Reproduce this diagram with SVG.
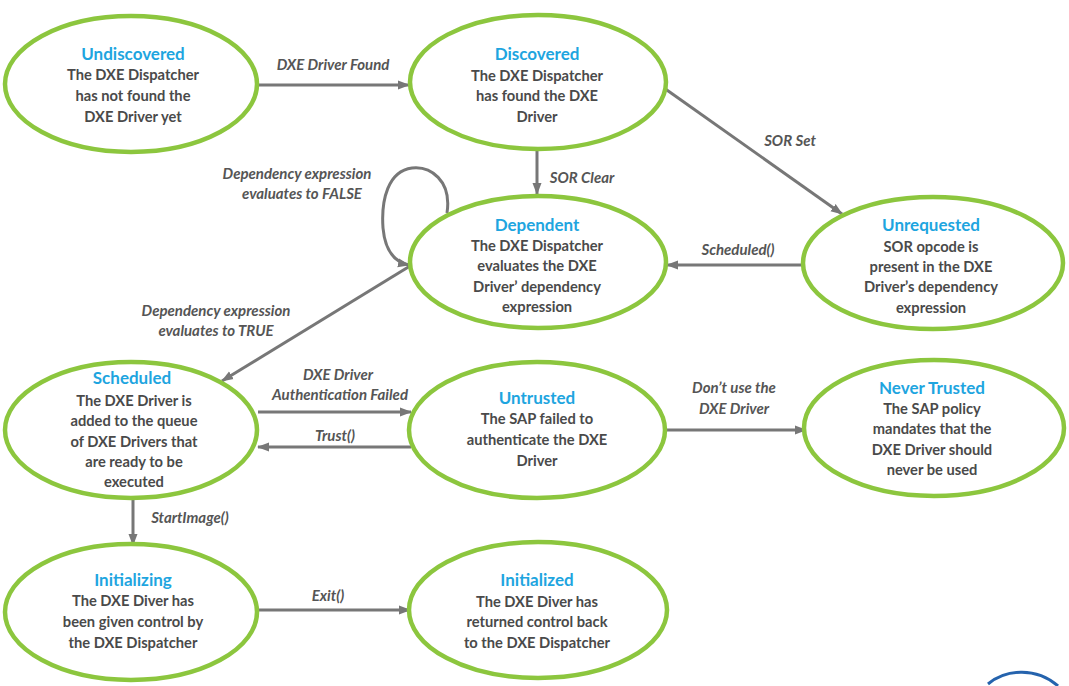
<svg xmlns="http://www.w3.org/2000/svg" width="1069" height="686" viewBox="0 0 1069 686">
<defs>
<marker id="ah" markerUnits="userSpaceOnUse" markerWidth="12" markerHeight="12" viewBox="0 0 12 12" refX="11" refY="6" orient="auto">
<path d="M0,1.5 L12,6 L0,10.5 Z" fill="#777"/>
</marker>
<style>
.st{fill:#fff;stroke:#8cc63e;stroke-width:4.5}
.tt{font-family:Lato,"Liberation Sans",sans-serif;font-size:17px;font-weight:bold;fill:#1ea5df;text-anchor:middle}
.bd{font-family:Lato,"Liberation Sans",sans-serif;font-size:14.7px;font-weight:bold;fill:#4a4a4a;text-anchor:middle}
.lb{font-family:Lato,"Liberation Sans",sans-serif;font-size:15px;font-style:italic;font-weight:bold;fill:#555;text-anchor:middle}
.ed{fill:none;stroke:#777;stroke-width:3;marker-end:url(#ah)}
</style>
</defs>
<rect width="1069" height="686" fill="#fff"/>
<g id="connectors">
<line class="ed" x1="258" y1="85" x2="409" y2="85"/>
<line class="ed" x1="537" y1="149" x2="537" y2="194"/>
<line class="ed" x1="664" y1="88" x2="842" y2="214"/>
<line class="ed" x1="803" y1="265" x2="667" y2="265"/>
<path class="ed" d="M447,213 C452,180 430,166 412,168 C388,171 381,200 383,228 C385,250 394,262 409,265"/>
<line class="ed" x1="410" y1="266" x2="222" y2="381"/>
<line class="ed" x1="258" y1="412" x2="411" y2="412"/>
<line class="ed" x1="411" y1="447" x2="258" y2="447"/>
<line class="ed" x1="665" y1="430" x2="806" y2="430"/>
<line class="ed" x1="133" y1="498" x2="133" y2="545"/>
<line class="ed" x1="258" y1="610" x2="410" y2="610"/>
<text class="lb" x="333" y="70">DXE Driver Found</text>
<text class="lb" x="582" y="183">SOR  Clear</text>
<text class="lb" x="790" y="146">SOR  Set</text>
<text class="lb" x="738" y="255">Scheduled()</text>
<text class="lb" x="297" y="179">Dependency expression</text>
<text class="lb" x="302" y="199">evaluates to FALSE</text>
<text class="lb" x="216" y="316">Dependency expression</text>
<text class="lb" x="216" y="336">evaluates to TRUE</text>
<text class="lb" x="338" y="380">DXE Driver</text>
<text class="lb" x="340" y="400">Authentication Failed</text>
<text class="lb" x="335" y="441">Trust()</text>
<text class="lb" x="734" y="393">Don’t use the</text>
<text class="lb" x="734" y="414">DXE Driver</text>
<text class="lb" x="190" y="523">StartImage()</text>
<text class="lb" x="328" y="601">Exit()</text>
</g>
<g id="undiscovered">
<ellipse class="st" cx="131" cy="84" rx="126" ry="68"/>
<text class="tt" x="133" y="60">Undiscovered</text>
<text class="bd" x="133" y="80">The DXE Dispatcher</text>
<text class="bd" x="133" y="101">has not found the</text>
<text class="bd" x="133" y="122">DXE Driver yet</text>
</g>
<g id="discovered">
<ellipse class="st" cx="538" cy="82" rx="128" ry="67"/>
<text class="tt" x="537" y="60">Discovered</text>
<text class="bd" x="537" y="81">The DXE Dispatcher</text>
<text class="bd" x="537" y="101">has  found the DXE</text>
<text class="bd" x="537" y="122">Driver</text>
</g>
<g id="dependent">
<ellipse class="st" cx="538" cy="262" rx="128" ry="66"/>
<text class="tt" x="537" y="231">Dependent</text>
<text class="bd" x="537" y="251">The DXE Dispatcher</text>
<text class="bd" x="537" y="271">evaluates the DXE</text>
<text class="bd" x="537" y="292">Driver’ dependency</text>
<text class="bd" x="537" y="312">expression</text>
</g>
<g id="unrequested">
<ellipse class="st" cx="933" cy="263" rx="130" ry="66"/>
<text class="tt" x="931" y="231">Unrequested</text>
<text class="bd" x="931" y="252">SOR opcode is</text>
<text class="bd" x="931" y="272">present in the DXE</text>
<text class="bd" x="931" y="292">Driver’s dependency</text>
<text class="bd" x="931" y="313">expression</text>
</g>
<g id="scheduled">
<ellipse class="st" cx="131" cy="430" rx="126" ry="68"/>
<text class="tt" x="132" y="384">Scheduled</text>
<text class="bd" x="134" y="406">The DXE Driver is</text>
<text class="bd" x="134" y="426">added to the queue</text>
<text class="bd" x="134" y="447">of DXE Drivers that</text>
<text class="bd" x="134" y="467">are ready to be</text>
<text class="bd" x="134" y="487">executed</text>
</g>
<g id="untrusted">
<ellipse class="st" cx="537" cy="430" rx="128" ry="68"/>
<text class="tt" x="537" y="404">Untrusted</text>
<text class="bd" x="537" y="424">The SAP failed to</text>
<text class="bd" x="537" y="445">authenticate the  DXE</text>
<text class="bd" x="537" y="466">Driver</text>
</g>
<g id="never-trusted">
<ellipse class="st" cx="934" cy="428" rx="130" ry="68"/>
<text class="tt" x="932" y="394">Never Trusted</text>
<text class="bd" x="932" y="414">The SAP policy</text>
<text class="bd" x="932" y="434">mandates that the</text>
<text class="bd" x="932" y="455">DXE Driver should</text>
<text class="bd" x="932" y="475">never be used</text>
</g>
<g id="initializing">
<ellipse class="st" cx="131" cy="612" rx="126" ry="68"/>
<text class="tt" x="133" y="586">Initializing</text>
<text class="bd" x="133" y="606">The DXE Diver has</text>
<text class="bd" x="133" y="627">been given control by</text>
<text class="bd" x="133" y="648">the DXE Dispatcher</text>
</g>
<g id="initialized">
<ellipse class="st" cx="538" cy="610" rx="129" ry="68"/>
<text class="tt" x="537" y="586">Initialized</text>
<text class="bd" x="537" y="607">The DXE Diver has</text>
<text class="bd" x="537" y="627">returned control back</text>
<text class="bd" x="537" y="648">to the DXE Dispatcher</text>
</g>
<path d="M988,684 C1005,670 1035,666 1058,686" fill="none" stroke="#2563ad" stroke-width="3"/>
</svg>
